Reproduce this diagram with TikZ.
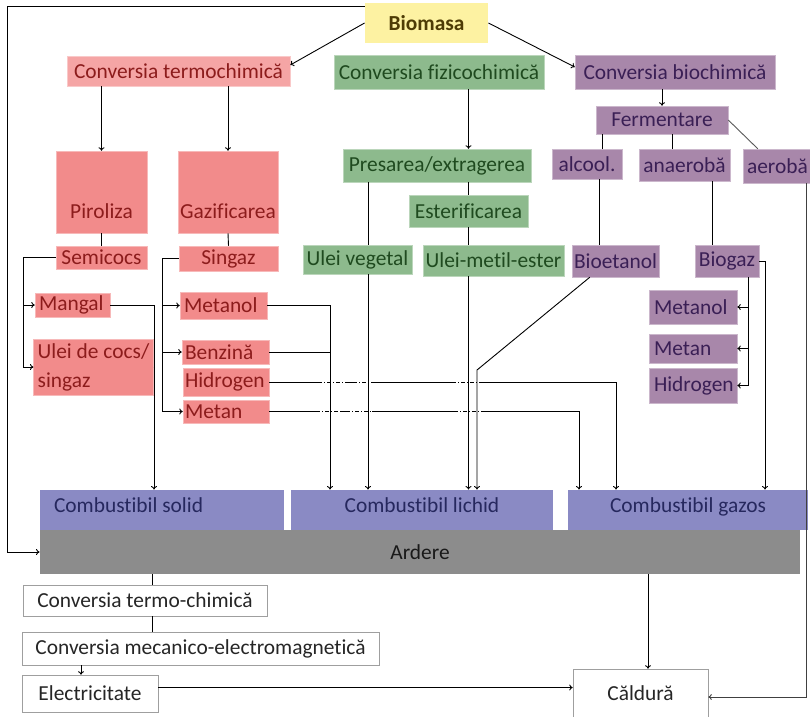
\documentclass[tikz,border=0pt]{standalone}
\usepackage{fontspec}
\setmainfont{Carlito}[Ligatures={NoCommon}]
\usetikzlibrary{arrows.meta}
\definecolor{bioyel}{HTML}{FDF2A2}
\definecolor{biotxt}{HTML}{4E3C05}
\definecolor{termlight}{HTML}{F5A5A5}
\definecolor{termcol}{HTML}{F28B8B}
\definecolor{termtxt}{HTML}{8C1C1C}
\definecolor{fizcol}{HTML}{8DBA8D}
\definecolor{fiztxt}{HTML}{1F4A1F}
\definecolor{biocol}{HTML}{A887AA}
\definecolor{biotx}{HTML}{3A1F55}
\definecolor{combcol}{HTML}{8A8AC4}
\definecolor{combtxt}{HTML}{26285E}
\definecolor{ardcol}{HTML}{8C8C8C}

\begin{document}
\begin{tikzpicture}[x=1pt, y=-1pt, line width=0.9pt, >={To[length=3.5pt,width=6pt]},
  every node/.style={font=\fontsize{21.4}{29}\selectfont, inner sep=0pt},
  sz/.style 2 args={minimum width=#1pt, minimum height=#2pt},
  yelbox/.style={fill=bioyel, text=biotxt},
  termlt/.style={fill=termlight, draw=termlight!60!white, line width=0.5pt, text=termtxt},
  termbox/.style={fill=termcol, draw=termcol!60!white, line width=0.5pt, text=termtxt},
  fizbox/.style={fill=fizcol, draw=fizcol!60!white, line width=0.5pt, text=fiztxt},
  biobox/.style={fill=biocol, draw=biocol!60!white, line width=0.5pt, text=biotx},
  combbox/.style={fill=combcol, text=combtxt, text height=22pt, text depth=18pt},
  plainbox/.style={fill=white, draw=gray!75, line width=0.6pt, text=black!85},
  gapwhite/.style={draw=white, line width=2.4pt},
  gapdash/.style={dash pattern=on 4pt off 2pt on 1pt off 2pt}]
\clip (0,0) rectangle (810,716);

% columns for the connectors
\foreach \n/\x in {cleft/7, csem/23, cctc/152, celc/81, csol/154, csin/162, cmol/330, cveg/368,
                   cfer1/602, cfer2/672, calc/599, cana/712, cbgb/748, cbgz/765, caer/806,
                   cmet/579, chid/616, cheat/648}
  \coordinate (\n) at (\x,0);
\coordinate (etnbend) at (477,370);

% top row
\node[yelbox, sz={123}{40}, font=\fontsize{21.4}{29}\selectfont\bfseries] (bio) at (426.5,23) {Biomasa};
\node[termlt, sz={223}{30}] (termo) at (178.5,71) {Conversia termochimică};
\node[fizbox, sz={210}{34}] (fizico) at (439,72) {Conversia fizicochimică};
\node[biobox, sz={200}{34}] (bioch) at (675,72) {Conversia biochimică};

% termochimic
\node[termbox, sz={91}{82}, text height=67pt, text depth=15pt] (piro) at (101.5,192) {Piroliza};
\node[termbox, sz={100}{82}, text height=67pt, text depth=15pt] (gazi) at (228,192) {Gazificarea};
\node[termbox, sz={91}{23}] (semi) at (101.5,257.5) {Semicocs};
\node[termbox, sz={99}{25}] (sing) at (228.5,258.5) {Singaz};
\node[termbox, sz={75}{24}, inner xsep=4pt, text width=67pt, align=flush left] (mangal) at (72.5,305) {Mangal};
\node[termbox, sz={117}{56}, inner xsep=4pt, align=left] (ucocs) at (93.5,367) {Ulei de cocs/\\singaz};
\node[termbox, sz={87}{27}, inner xsep=4pt, text width=79pt, align=flush left] (metanol1) at (223.5,305.5) {Metanol};
\node[termbox, sz={87}{24}, inner xsep=3pt, text width=81pt, align=flush left] (benz) at (225.5,352) {Benzină};
\node[termbox, sz={86}{28}, inner xsep=2pt, text width=82pt, align=flush left] (hidro1) at (226,382) {Hidrogen};
\node[termbox, sz={86}{23}, inner xsep=2pt, text width=82pt, align=flush left] (metan1) at (226,411.5) {Metan};

% fizicochimic
\node[fizbox, sz={188}{33}] (presa) at (437,165.5) {Presarea/extragerea};
\node[fizbox, sz={119}{32}] (ester) at (468.5,211) {Esterificarea};
\node[fizbox, sz={109}{29}] (uveg) at (357.5,259.5) {Ulei vegetal};
\node[fizbox, sz={141}{31}] (umet) at (493.5,260.5) {Ulei-metil-ester};

% biochimic
\node[biobox, sz={132}{28}] (ferm) at (662,120) {Fermentare};
\node[biobox, sz={70}{30}] (alcool) at (587,164) {alcool.};
\node[biobox, sz={77}{34}, inner xsep=4pt, text width=69pt, align=flush left] (aerob) at (781.5,166) {aerobă};
\node[biobox, sz={91}{32}] (anaer) at (684.5,165) {anaerobă};
\node[biobox, sz={87}{32}] (bioet) at (615.5,261) {Bioetanol};
\node[biobox, sz={64}{32}] (biogaz) at (727,261) {Biogaz};
\node[biobox, sz={88}{34}, inner xsep=5pt, text width=78pt, align=flush left] (metanol2) at (693,307) {Metanol};
\node[biobox, sz={88}{29}, inner xsep=5pt, text width=78pt, align=flush left] (metan2) at (693,348.5) {Metan};
\node[biobox, sz={88}{35}, inner xsep=5pt, text width=78pt, align=flush left] (hidro2) at (693,385.5) {Hidrogen};

% combustibil + ardere
\node[combbox, sz={244}{40}, inner xsep=14pt, text width=216pt, align=flush left] (csolid) at (162,510) {Combustibil solid};
\node[combbox, sz={262}{40}] (clichid) at (422,510) {Combustibil lichid};
\node[combbox, sz={240}{40}] (cgazos) at (688,510) {Combustibil gazos};
\node[fill=ardcol, text=black!90, sz={760}{44}] (ardere) at (420,552) {Ardere};

% bottom
\node[plainbox, sz={244}{31}] (ctc) at (145,600.5) {Conversia termo-chimică};
\node[plainbox, sz={357}{33}] (cme) at (200.5,648.5) {Conversia mecanico-electromagnetică};
\node[plainbox, sz={136}{37}] (elec) at (90,693.5) {Electricitate};
\node[plainbox, sz={135}{56}, text height=31pt, text depth=25pt] (cald) at (640.5,697) {Căldură};

% horizontal lines first, broken where they cross
\draw[->] (hidro1.east) -| (chid |- cgazos.north);
\draw[->] (metan1.east) -| (cmet |- cgazos.north);
\foreach \a/\b in {318/345, 353/373, 452/481} {
  \draw[gapwhite] (\a,382) -- (\b,382);
  \draw[gapdash] (\a,382) -- (\b,382);
}
\foreach \a/\b in {316/341, 346/372, 454/481} {
  \draw[gapwhite] (\a,411.5) -- (\b,411.5);
  \draw[gapdash] (\a,411.5) -- (\b,411.5);
}

% biomasa
\draw[->] (bio.west) -- ([yshift=6pt]termo.east);
\draw[->] (bio.east) -- ([yshift=5pt]bioch.west);
\draw[->] ([yshift=-4pt]bio.north west) -| (cleft |- ardere.west) -- (ardere.west);

% termochimic
\draw[->] (termo.south -| piro) -- (piro.north);
\draw[->] (termo.south -| gazi) -- (gazi.north);
\draw (piro.south) -- (semi.north);
\draw (gazi.south) -- (sing.north);
\draw[->] (semi.west) -| (csem |- ucocs.west) -- (ucocs.west);
\draw[->] (csem |- mangal.west) -- (mangal.west);
\draw[->] (sing.west) -| (csin |- metan1.west) -- (metan1.west);
\draw[->] (csin |- metanol1.west) -- (metanol1.west);
\draw[->] (csin |- benz.west) -- (benz.west);
\draw[->] (mangal.east) -| (csol |- csolid.north);
\draw (ucocs.east) -- (ucocs.east -| csol);
\draw[->] (metanol1.east) -| (cmol |- clichid.north);
\draw (benz.east) -- (benz.east -| cmol);

% fizicochimic
\draw[->] (fizico.south -| ester) -- (presa.north -| ester);
\draw (presa.south -| ester) -- (ester.north);
\draw (presa.south -| cveg) -- (uveg.north -| cveg);
\draw[->] (uveg.south -| cveg) -- (clichid.north -| cveg);
\draw (ester.south) -- (umet.north -| ester);
\draw[->] (umet.south -| ester) -- (clichid.north -| ester);

% biochimic
\draw[->] (bioch.south -| ferm) -- (ferm.north);
\draw (ferm.south -| cfer1) -- (alcool.north -| cfer1);
\draw (ferm.south -| cfer2) -- (anaer.north -| cfer2);
\draw[black!65] (ferm.east) -- ([xshift=15pt]aerob.north west);
\draw (alcool.south -| calc) -- (bioet.north -| calc);
\draw (anaer.south -| cana) -- (biogaz.north -| cana);
\draw[->] ([xshift=18pt]bioet.south west) -- (etnbend) -- (etnbend |- clichid.north);
\draw[->] (biogaz.east) -- (biogaz.east -| cbgz) -- (cbgz |- cgazos.north);
\draw[->] (biogaz.south -| cbgb) |- (hidro2.east);
\draw[->] (cbgb |- metanol2.east) -- (metanol2.east);
\draw[->] (cbgb |- metan2.east) -- (metan2.east);
\draw[->, black!75] (aerob.south -| caer) -- (caer |- cald.east) -- (cald.east);

% ardere
\draw (ardere.south -| cctc) -- (ctc.north -| cctc);
\draw (ctc.south -| cctc) -- (cme.north -| cctc);
\draw[->] (cme.south -| celc) -- (elec.north -| celc);
\draw[->] ([yshift=6pt]elec.east) -- ([yshift=6pt]elec.east -| cald.west);
\draw[->] (ardere.south -| cheat) -- (cald.north -| cheat);
\end{tikzpicture}
\end{document}
